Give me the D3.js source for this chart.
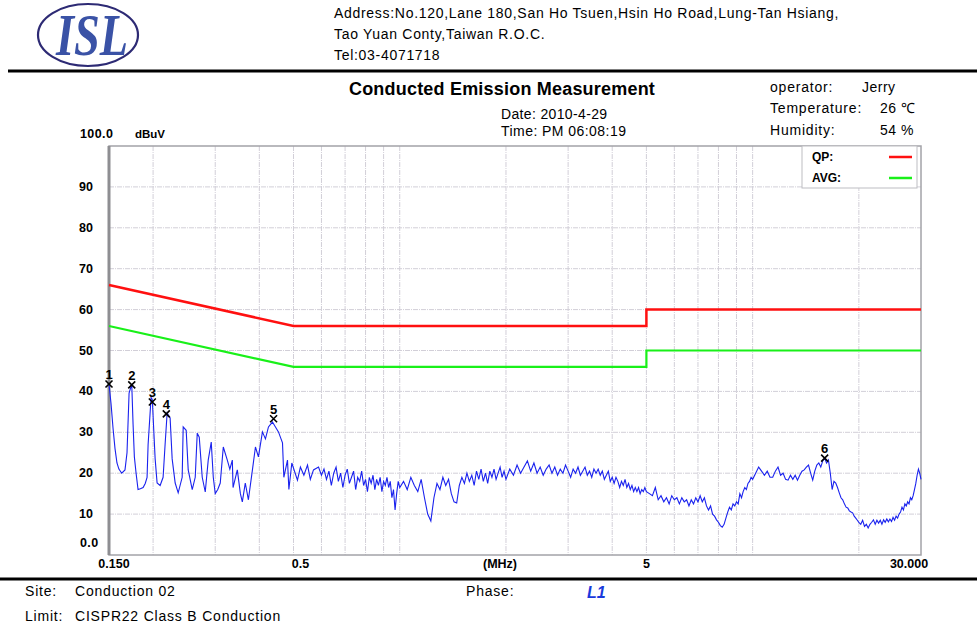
<!DOCTYPE html>
<html>
<head>
<meta charset="utf-8">
<script src="https://cdn.jsdelivr.net/npm/d3@7"></script>
<style>
  body { margin: 0; background: #fff; }
  svg text { font-family: "Liberation Sans", Arial, sans-serif; fill: #000; }
</style>
</head>
<body>
<div id="chart"></div>
<script>
// ---- data ----
var yTicks = [10, 20, 30, 40, 50, 60, 70, 80, 90];
var yEndLabels = [[0, "0.0"], [100, "100.0"]];
var xLabels = [[0.15, "0.150"], [0.5, "0.5"], [5, "5"], [30, "30.000"]];
var gridFreqs = [0.2, 0.3, 0.4, 0.5, 0.6, 0.7, 0.8, 0.9, 1, 2, 3, 4, 5, 6, 7, 8, 9, 10, 20];

// limit lines (MHz, dBuV)
var qpLimit = [[0.15, 66], [0.5, 56], [5, 56], [5, 60], [30, 60]];
var avgLimit = [[0.15, 56], [0.5, 46], [5, 46], [5, 50], [30, 50]];

// marked peaks
var markers = [
  {n: "1", f: 0.150, v: 41.8},
  {n: "2", f: 0.174, v: 41.6},
  {n: "3", f: 0.199, v: 37.4},
  {n: "4", f: 0.218, v: 34.5},
  {n: "5", f: 0.439, v: 33.3},
  {n: "6", f: 16.0, v: 23.7}
];

// measured trace, [MHz, dBuV]
var trace = [
  [0.150,41.8],[0.152,37],[0.154,31],[0.156,26],[0.158,22.5],[0.160,21],[0.163,20],[0.1665,20.8],
  [0.1687,25],[0.171,39.6],[0.174,41.8],[0.1755,32],[0.177,24],[0.179,20],[0.1813,16],[0.184,16.2],
  [0.1874,16.5],[0.190,17.5],[0.1923,19],[0.1936,27],[0.1974,38.5],[0.199,38],[0.201,30],[0.2027,23.5],
  [0.2053,17.6],[0.2094,17],[0.2135,19],[0.2163,27],[0.2192,34.7],[0.2235,33.5],[0.2265,23.5],[0.231,17.6],
  [0.2356,15.2],[0.2418,19],[0.2434,31.3],[0.2482,30.5],[0.2515,20.8],[0.2582,16],[0.2633,19],[0.2668,29.8],
  [0.2703,28.8],[0.2756,19],[0.2811,15.4],[0.2866,23.2],[0.2923,27.6],[0.2962,19],[0.300,15],[0.305,16],
  [0.310,17.6],[0.3162,26.4],[0.3246,23.2],[0.330,21],[0.3354,23.2],[0.337,16.5],[0.3465,20.8],[0.3535,15],
  [0.358,13],[0.365,17.6],[0.3725,13.5],[0.3824,20.8],[0.390,26.4],[0.3977,24],[0.4082,30.1],[0.4163,28.4],
  [0.4246,31.3],[0.4358,32.5],[0.4444,31.3],[0.4532,30.1],[0.4653,27.4],[0.4694,19],[0.4807,23.2],[0.4851,16],
  [0.4945,22.5],[0.513,18.3],[0.523,21.5],[0.535,19.5],[0.5478,22],[0.558,18.5],[0.5696,20.8],[0.5886,21.5],
  [0.60,19.5],[0.61,21],[0.62,18.5],[0.63,20.5],[0.64,17],[0.65,20],[0.66,21.5],[0.67,18],[0.68,20],[0.69,16.5],
  [0.70,19.5],[0.71,21],[0.72,17.5],[0.73,19],[0.74,20.5],[0.75,16],[0.76,19],[0.77,18],[0.78,20.5],[0.79,17],
  [0.80,18.5],[0.81,15.5],[0.82,19],[0.83,17.5],[0.84,19.5],[0.85,16],[0.86,18.5],[0.87,17],[0.88,19],[0.89,15.5],
  [0.90,18],[0.91,17],[0.92,19],[0.93,16.5],[0.94,18],[0.95,14],[0.96,16],[0.97,11],[0.98,15],[0.99,18],[1.00,16.5],
  [1.025,18],[1.05,16],[1.075,19],[1.10,17],[1.125,15.5],[1.15,18.5],[1.175,14],[1.20,10],[1.225,8.3],[1.25,14],
  [1.275,17.5],[1.30,16],[1.325,19],[1.35,17],[1.375,18.5],[1.40,15],[1.425,13],[1.45,12.7],[1.475,17],[1.50,19],
  [1.525,17.5],[1.55,20],[1.575,18],[1.60,19.5],[1.625,17],[1.65,20.5],[1.675,18.5],[1.70,21],[1.725,18],[1.75,20],
  [1.775,17.5],[1.80,20.5],[1.825,19],[1.85,21],[1.875,18.5],[1.90,20],[1.925,21.5],[1.95,19],[1.975,20.5],[2.00,18.5],
  [2.05,21],[2.10,19.5],[2.15,22],[2.20,20],[2.25,21.5],[2.30,23],[2.35,20.5],[2.40,22.5],[2.45,20],[2.50,21.5],
  [2.55,19.5],[2.60,21],[2.65,22],[2.70,20],[2.75,21.5],[2.80,19.5],[2.85,21],[2.90,20],[2.95,22],[3.00,20.5],
  [3.05,19],[3.10,21],[3.15,20],[3.20,21.5],[3.25,19.5],[3.30,20.5],[3.35,21.5],[3.40,19.5],[3.45,20.5],[3.50,19],
  [3.55,21],[3.60,20],[3.65,21],[3.70,19.5],[3.75,20.5],[3.80,18.5],[3.85,19.5],[3.90,20.5],[3.95,18],[4.00,19],
  [4.05,17.5],[4.10,19],[4.15,18],[4.20,16.5],[4.25,18],[4.30,17],[4.35,18.5],[4.40,16.5],[4.45,17.5],[4.50,16],
  [4.55,17],[4.60,15.5],[4.65,16.5],[4.70,15.5],[4.75,16.5],[4.80,15],[4.85,16],[4.90,15.5],[4.95,16.5],[5.00,15.5],
  [5.1,15],[5.2,14.5],[5.3,16.5],[5.4,13.5],[5.5,14.5],[5.6,13],[5.7,14],[5.8,12.5],[5.9,14.5],[6.0,13.5],
  [6.1,14],[6.2,12.5],[6.3,14],[6.4,13],[6.5,13.5],[6.6,12],[6.7,13.5],[6.8,12.5],[6.9,14],[7.0,13],
  [7.1,14.5],[7.2,13],[7.3,14],[7.4,12],[7.5,11],[7.6,12],[7.7,10],[7.8,9.5],[7.9,8.6],[8.0,8],
  [8.1,7.2],[8.2,6.8],[8.3,7.5],[8.4,9],[8.5,10.5],[8.6,11.7],[8.7,11],[8.8,12.5],[8.9,12],[9.0,13],
  [9.1,12.5],[9.2,15],[9.3,14],[9.4,15.5],[9.5,16.5],[9.6,16],[9.7,17.5],[9.8,18],[9.9,19],[10.0,18.5],
  [10.2,20],[10.4,21.5],[10.6,20.5],[10.8,19.5],[11.0,20.5],[11.2,19],[11.4,19],[11.6,20.5],[11.8,21.5],[12.0,19.5],
  [12.2,20],[12.4,18.5],[12.6,18.3],[12.8,19.5],[13.0,18.5],[13.2,19.5],[13.4,18.3],[13.6,19.5],[13.8,20.5],[14.0,20.8],
  [14.2,21.5],[14.4,22],[14.6,20],[14.8,18.3],[15.0,20.5],[15.2,22],[15.4,22.5],[15.6,21.5],[15.8,23],[16.0,23.7],
  [16.2,22.5],[16.4,23.2],[16.6,20],[16.8,16],[17.0,18],[17.2,17.6],[17.4,16.5],[17.6,15.2],[17.8,14],[18.0,13.5],
  [18.2,12.5],[18.4,11.7],[18.6,11.5],[18.8,10.8],[19.0,10.5],[19.2,10.3],[19.4,9.5],[19.6,9],[19.8,8.5],[20.0,8],
  [20.25,7.5],[20.5,8.5],[20.75,7],[21.0,7.5],[21.25,6.6],[21.5,7.5],[21.75,8],[22.0,8.6],[22.25,7.5],[22.5,8.5],
  [22.75,7.8],[23.0,8.5],[23.25,7.5],[23.5,8.6],[23.75,8],[24.0,8.8],[24.25,8.1],[24.5,8.8],[24.75,8.2],[25.0,9.2],
  [25.25,8.5],[25.5,9.5],[25.75,9],[26.0,10],[26.25,10.5],[26.5,11.7],[26.75,11],[27.0,12.5],[27.25,12],[27.5,13],
  [27.75,12.5],[28.0,14],[28.25,13.5],[28.5,14.5],[28.75,16],[29.0,17.5],[29.25,19.5],[29.5,21],[29.75,20],[30.0,18.5]
];

// ---- layout ----
var W = 977, H = 627;
var plot = {left: 109, right: 921, top: 146, bottom: 555};

var svg = d3.select("#chart").append("svg")
  .attr("width", W)
  .attr("height", H);

svg.append("rect").attr("width", W).attr("height", H).attr("fill", "#fff");

var x = d3.scaleLog().domain([0.15, 30]).range([plot.left, plot.right]);
var y = d3.scaleLinear().domain([0, 100]).range([plot.bottom, plot.top]);

// ---- header ----
var logo = svg.append("g");
logo.append("ellipse")
  .attr("cx", 88).attr("cy", 35).attr("rx", 50).attr("ry", 31)
  .attr("fill", "none").attr("stroke", "#2d2a74").attr("stroke-width", 2.2);
logo.append("text")
  .attr("x", 56).attr("y", 55)
  .attr("textLength", 72).attr("lengthAdjust", "spacingAndGlyphs")
  .style("font-family", "'Liberation Serif', serif")
  .style("font-weight", "bold").style("font-style", "italic")
  .style("font-size", "60px")
  .style("fill", "#3a52a6")
  .text("ISL");

var addr = ["Address:No.120,Lane 180,San Ho Tsuen,Hsin Ho Road,Lung-Tan Hsiang,",
            "Tao Yuan Conty,Taiwan R.O.C.",
            "Tel:03-4071718"];
svg.selectAll(".addr").data(addr).enter().append("text")
  .attr("class", "addr")
  .attr("x", 334).attr("y", function (d, i) { return 18 + i * 21; })
  .style("font-size", "14px").style("letter-spacing", "0.7px")
  .text(function (d) { return d; });

svg.append("line").attr("x1", 8).attr("x2", W).attr("y1", 71).attr("y2", 71)
  .attr("stroke", "#000").attr("stroke-width", 3);

svg.append("text").attr("x", 502).attr("y", 95).attr("text-anchor", "middle")
  .style("font-size", "18px").style("font-weight", "bold").style("letter-spacing", "0.2px")
  .text("Conducted Emission Measurement");
svg.append("text").attr("x", 501).attr("y", 119)
  .style("font-size", "14px").style("letter-spacing", "0.35px").text("Date: 2010-4-29");
svg.append("text").attr("x", 501).attr("y", 136)
  .style("font-size", "14px").style("letter-spacing", "0.45px").text("Time: PM 06:08:19");

var info = [["operator:", "Jerry", 862, 92], ["Temperature:", "26 \u2103", 880, 113], ["Humidity:", "54 %", 880, 135]];
info.forEach(function (d) {
  svg.append("text").attr("x", 770).attr("y", d[3])
    .style("font-size", "14px").style("letter-spacing", "0.8px").text(d[0]);
  svg.append("text").attr("x", d[2]).attr("y", d[3])
    .style("font-size", "14px").style("letter-spacing", "0.5px").text(d[1]);
});

// ---- grid ----
var grid = svg.append("g");
grid.selectAll(".vg").data(gridFreqs).enter().append("line")
  .attr("x1", function (d) { return x(d); }).attr("x2", function (d) { return x(d); })
  .attr("y1", plot.top).attr("y2", plot.bottom)
  .attr("stroke", "#d2cfd8").attr("stroke-width", 1).attr("stroke-dasharray", "5,1,1,1");
grid.selectAll(".hg").data(yTicks).enter().append("line")
  .attr("x1", plot.left).attr("x2", plot.right)
  .attr("y1", function (d) { return y(d); }).attr("y2", function (d) { return y(d); })
  .attr("stroke", "#d2cfd8").attr("stroke-width", 1).attr("stroke-dasharray", "5,1,1,1");

// frame
svg.append("rect")
  .attr("x", plot.left).attr("y", plot.top)
  .attr("width", plot.right - plot.left).attr("height", plot.bottom - plot.top)
  .attr("fill", "none").attr("stroke", "#a3a3a8").attr("stroke-width", 1.5);
svg.append("line").attr("x1", plot.left).attr("x2", plot.left)
  .attr("y1", plot.top).attr("y2", plot.bottom)
  .attr("stroke", "#8e8e92").attr("stroke-width", 3);

// ---- axis labels ----
svg.selectAll(".yl").data(yTicks).enter().append("text")
  .attr("x", 79).attr("y", function (d) { return y(d) + 4; })
  .style("font-size", "12.5px").style("font-weight", "bold")
  .text(function (d) { return d; });
svg.selectAll(".ye").data(yEndLabels).enter().append("text")
  .attr("x", 80).attr("y", function (d) { return y(d[0]) - 8; })
  .style("font-size", "12.5px").style("font-weight", "bold").style("letter-spacing", "0.4px")
  .text(function (d) { return d[1]; });
svg.append("text").attr("x", 135).attr("y", y(100) - 8)
  .style("font-size", "11.5px").style("font-weight", "bold").text("dBuV");

var xOffset = {"0.150": 5, "0.5": 7, "5": 0, "30.000": -12};
svg.selectAll(".xl").data(xLabels).enter().append("text")
  .attr("x", function (d) { return x(d[0]) + xOffset[d[1]]; })
  .attr("y", 568)
  .attr("text-anchor", "middle")
  .style("font-size", "12.5px").style("font-weight", "bold")
  .text(function (d) { return d[1]; });
svg.append("text").attr("x", 500).attr("y", 568).attr("text-anchor", "middle")
  .style("font-size", "12.5px").style("font-weight", "bold").text("(MHz)");

// ---- limit lines ----
var line = d3.line()
  .x(function (d) { return x(d[0]); })
  .y(function (d) { return y(d[1]); });

svg.append("path").datum(avgLimit).attr("d", line)
  .attr("fill", "none").attr("stroke", "#19f019").attr("stroke-width", 2.2);
svg.append("path").datum(qpLimit).attr("d", line)
  .attr("fill", "none").attr("stroke", "#ff1010").attr("stroke-width", 2.5);

// ---- trace ----
svg.append("path").datum(trace).attr("d", line)
  .attr("fill", "none").attr("stroke", "#1a22ee").attr("stroke-width", 1.1);

// ---- markers ----
var mk = svg.selectAll(".mk").data(markers).enter().append("g")
  .attr("transform", function (d) { return "translate(" + x(d.f) + "," + y(d.v) + ")"; });
mk.append("path")
  .attr("d", "M-3.5,-3.5L3.5,3.5M-3.5,3.5L3.5,-3.5")
  .attr("stroke", "#000").attr("stroke-width", 1.6);
mk.append("text").attr("y", -5).attr("text-anchor", "middle")
  .style("font-size", "13px").style("font-weight", "bold")
  .text(function (d) { return d.n; });

// ---- legend ----
var leg = svg.append("g");
leg.append("rect").attr("x", 802).attr("y", plot.top).attr("width", 115).attr("height", 42)
  .attr("fill", "#fff").attr("stroke", "#bdbdc2").attr("stroke-width", 1);
var legItems = [["QP:", "#ff1010", 161], ["AVG:", "#19f019", 182]];
legItems.forEach(function (d) {
  leg.append("text").attr("x", 812).attr("y", d[2]).style("font-size", "12px").style("font-weight", "bold").text(d[0]);
  leg.append("line").attr("x1", 889).attr("x2", 912).attr("y1", d[2] - 4).attr("y2", d[2] - 4)
    .attr("stroke", d[1]).attr("stroke-width", 2.5);
});

// ---- footer ----
svg.append("line").attr("x1", 0).attr("x2", W).attr("y1", 579).attr("y2", 579)
  .attr("stroke", "#000").attr("stroke-width", 3);
var foot = [["Site:", 25, 596], ["Conduction 02", 75, 596], ["Phase:", 466, 596],
            ["Limit:", 25, 621], ["CISPR22 Class B Conduction", 75, 621]];
foot.forEach(function (d) {
  svg.append("text").attr("x", d[1]).attr("y", d[2])
    .style("font-size", "14px").style("letter-spacing", "0.8px").text(d[0]);
});
svg.append("text").attr("x", 587).attr("y", 598)
  .style("font-size", "16px").style("font-style", "italic").style("font-weight", "bold")
  .style("fill", "#1a3adc").text("L1");
</script>
</body>
</html>
